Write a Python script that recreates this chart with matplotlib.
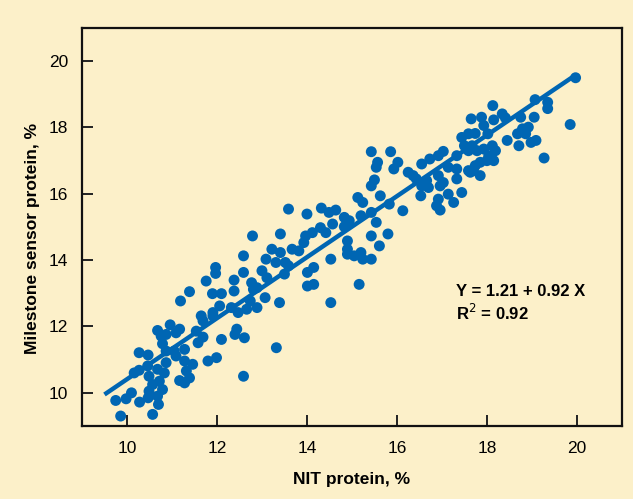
import matplotlib
matplotlib.use("Agg")
from matplotlib import pyplot as plt

# NIT protein (x) vs Milestone sensor protein (y)
nit = [
    9.86, 10.57, 9.75, 9.98, 10.10, 10.28, 10.47, 10.49, 10.70, 10.68,
    10.79, 10.57, 10.72, 10.49, 10.68, 10.83, 10.16, 10.27, 10.46, 10.27,
    10.47, 10.87, 10.87, 10.79, 10.76, 10.68, 10.87, 10.96, 11.17, 11.09,
    11.05, 11.09, 11.28, 11.28, 11.32, 11.46, 11.39, 11.17, 11.28, 11.80,
    11.99, 11.58, 11.69, 11.54, 11.69, 11.65, 11.91, 12.06, 12.10, 11.19,
    11.39, 11.76, 11.97, 11.97, 11.90, 12.10, 12.59, 12.40, 12.61, 12.44,
    13.32, 12.38, 12.38, 12.59, 12.59, 12.79, 12.77, 12.89, 13.00, 13.11,
    12.74, 12.89, 13.07, 13.39, 12.47, 12.32, 11.91, 12.66, 12.81,
    13.09, 13.22, 13.31, 13.41, 13.41, 13.52, 13.59, 13.50, 13.67, 13.82,
    13.59, 14.00, 14.32, 14.49, 14.64, 14.83, 14.94, 14.57, 14.83, 14.30,
    14.42, 14.12, 13.97, 13.93, 14.15, 14.01, 14.01, 14.15, 14.53, 14.53,
    14.90, 14.90, 15.05, 15.16, 15.20, 15.43, 15.54, 15.43, 15.80, 15.61,
    15.20, 15.24, 15.43, 14.90,
    15.43, 15.50, 15.13, 15.24, 15.63, 15.83, 15.43, 15.86, 15.57, 15.54,
    16.02, 15.93, 16.13, 16.25, 16.36, 16.43, 16.55, 16.73, 16.92, 17.03,
    16.55, 16.70, 16.96, 17.03, 17.14, 17.33, 17.33, 17.33, 17.44, 17.59,
    17.50, 17.59, 16.53, 16.92, 16.88, 16.96, 17.14, 17.26, 17.44, 16.66,
    16.92,
    19.07, 19.35, 19.35, 18.13, 17.65, 17.88, 17.93, 18.15, 18.34, 18.41,
    18.75, 19.05, 18.92, 18.79, 18.68, 18.86, 18.45, 18.71, 18.98, 19.09,
    19.27, 17.74, 18.02, 18.12, 17.67, 17.59, 17.78, 17.93, 18.19, 18.04,
    18.15, 18.00, 17.85, 17.74, 17.70, 17.63, 17.85, 19.97, 19.85,
]
sensor = [
    9.30, 9.35, 9.77, 9.82, 10.00, 9.72, 9.85, 10.05, 9.65, 9.90,
    10.10, 10.25, 10.35, 10.50, 10.71, 10.60, 10.60, 10.68, 10.81, 11.21,
    11.14, 10.91, 11.26, 11.48, 11.71, 11.88, 11.76, 12.05, 11.92, 11.81,
    11.26, 11.11, 11.31, 10.96, 10.66, 10.86, 10.45, 10.37, 10.30, 10.96,
    11.06, 11.51, 11.68, 11.86, 12.17, 12.32, 12.32, 12.62, 11.61, 12.77,
    13.05, 13.37, 13.78, 13.60, 12.99, 12.99, 10.50, 11.76, 11.66, 11.92,
    11.36, 13.07, 13.40, 13.63, 14.13, 14.73, 13.32, 13.17, 13.68, 13.47,
    12.77, 12.57, 12.87, 12.72, 12.42, 12.57, 12.42, 12.52, 13.12,
    14.03, 14.33, 13.93, 14.23, 14.79, 13.93, 13.83, 13.58, 14.33, 14.28,
    15.54, 15.39, 15.57, 15.44, 15.51, 15.29, 15.19, 15.09, 15.01, 14.98,
    14.83, 14.83, 14.73, 14.53, 13.78, 13.63, 13.22, 13.27, 14.03, 12.72,
    14.58, 14.18, 14.13, 13.27, 15.34, 15.44, 15.14, 14.73, 14.79, 14.43,
    14.23, 14.03, 14.03, 14.33,
    16.24, 16.42, 15.89, 15.74, 15.94, 15.69, 17.27, 17.27, 16.95, 16.80,
    16.95, 16.75, 15.49, 16.65, 16.55, 16.45, 16.90, 17.05, 17.15, 17.28,
    16.24, 16.19, 16.24, 16.34, 16.80, 16.75, 16.45, 17.15, 17.70, 17.81,
    17.45, 16.70, 15.94, 15.84, 15.64, 15.51, 15.99, 15.74, 16.04, 16.40,
    16.55,
    18.84, 18.76, 18.57, 18.66, 18.26, 18.31, 18.06, 18.23, 18.41, 18.29,
    18.31, 18.31, 18.01, 17.96, 17.81, 17.81, 17.61, 17.45, 17.55, 17.61,
    17.08, 17.82, 17.81, 17.45, 17.45, 17.30, 17.30, 17.35, 17.30, 17.15,
    17.00, 17.00, 16.95, 16.85, 16.70, 16.65, 16.55, 19.50, 18.09,
]

# fitted line Y = 1.21 + 0.92 X, drawn over the data range
intercept = 1.21
slope = 0.92
fit_x = [9.5, 19.9]
fit_y = [intercept + slope * v for v in fit_x]

bg = "#fcf0c9"
blue = "#0066b3"

plt.rcParams["font.family"] = ["Liberation Sans", "DejaVu Sans"]

fig = plt.figure(figsize=(6.33, 4.99), dpi=100, facecolor=bg)
ax = fig.add_axes([0.1295, 0.1463, 0.853, 0.7976])
ax.set_facecolor(bg)

ax.scatter(nit, sensor, s=62, color=blue, edgecolors="none", zorder=3)
ax.plot(fit_x, fit_y, color=blue, lw=3.2, solid_capstyle="butt", zorder=2)

ax.set_xlim(9, 21)
ax.set_ylim(9, 21)
ax.set_xticks([10, 12, 14, 16, 18, 20])
ax.set_yticks([10, 12, 14, 16, 18, 20])
ax.tick_params(direction="in", length=8, width=1.4, labelsize=12.5, color="#222222")
ax.tick_params(axis="x", pad=11)
ax.tick_params(axis="y", pad=10)
for sp in ax.spines.values():
    sp.set_linewidth(1.6)
    sp.set_color("#111111")

ax.set_xlabel("NIT protein, %", fontsize=12.5, fontweight="bold")
ax.set_ylabel("Milestone sensor protein, %", fontsize=12.5, fontweight="bold")
ax.xaxis.set_label_coords(0.5, -0.115)
ax.yaxis.set_label_coords(-0.078, 0.47)

ax.text(17.31, 12.92, "Y = 1.21 + 0.92 X", fontsize=12, fontweight="bold", va="baseline")
ax.text(17.31, 12.20, "R$^2$ = 0.92", fontsize=12, fontweight="bold", va="baseline")

fig.savefig("out.png", dpi=100, facecolor=bg)
